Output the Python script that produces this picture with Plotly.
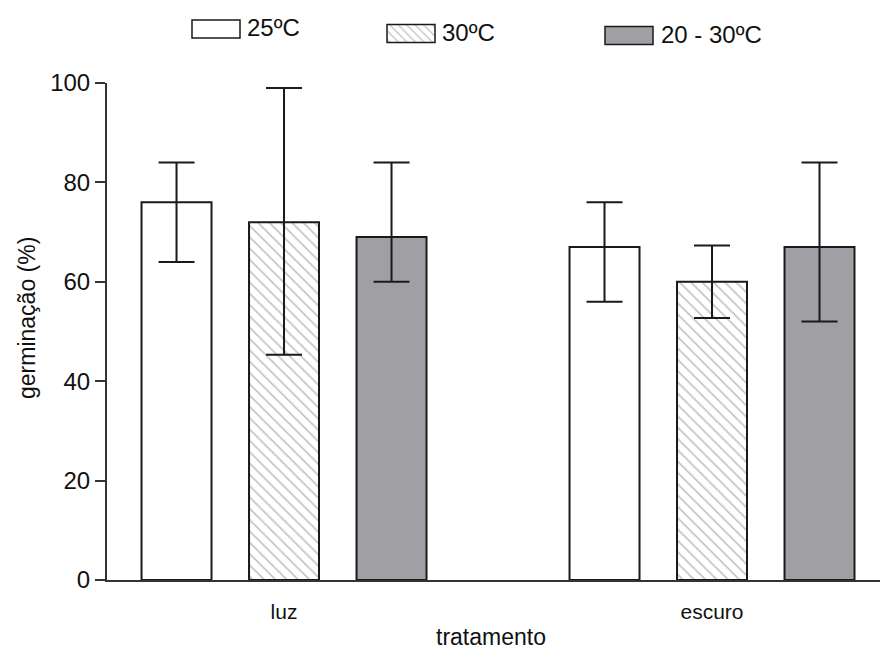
import plotly.graph_objects as go

# ---- data ----
categories = ["luz", "escuro"]
series_names = ["25ºC", "30ºC", "20 - 30ºC"]
means_25 = [76, 67]
upper_25 = [84, 76]
lower_25 = [64, 56]
means_30 = [72, 60]
upper_30 = [99, 67.3]
lower_30 = [45.3, 52.7]
means_2030 = [69, 67]
upper_2030 = [84, 84]
lower_2030 = [60, 52]
y_ticks = [0, 20, 40, 60, 80, 100]

W, H = 880, 653
FONT = "Liberation Sans, Arial, sans-serif"

styles = [
    dict(color="white", pattern=None),
    dict(color="white", pattern=dict(shape="\\", fgcolor="#8a8a8a", bgcolor="white", size=8, solidity=0.22)),
    dict(color="#a09fa4", pattern=None),
]
series = [
    (means_25, upper_25, lower_25),
    (means_30, upper_30, lower_30),
    (means_2030, upper_2030, lower_2030),
]

fig = go.Figure()
for name, (m, up, lo), st in zip(series_names, series, styles):
    marker = dict(color=st["color"], line=dict(color="#1a1a1a", width=2))
    if st["pattern"]:
        marker["pattern"] = st["pattern"]
    fig.add_trace(go.Bar(
        x=categories, y=m, name=name, marker=marker, showlegend=False,
        error_y=dict(type="data", symmetric=False,
                     array=[u - v for u, v in zip(up, m)],
                     arrayminus=[v - l for v, l in zip(m, lo)],
                     color="#1a1a1a", thickness=2, width=18),
    ))

# ---- legend swatches on a hidden pixel-scaled axis ----
legend_pos = [(192, 29, 245), (387, 33.5, 440), (605, 35.5, 659)]
for name, st, (x0, yc, tx) in zip(series_names, styles, legend_pos):
    marker = dict(color=st["color"], line=dict(color="#1a1a1a", width=1.5))
    if st["pattern"]:
        marker["pattern"] = dict(st["pattern"], size=6)
    fig.add_trace(go.Bar(
        x=[48], base=[x0], y=[yc], orientation="h", width=18,
        marker=marker, xaxis="x2", yaxis="y2", showlegend=False, hoverinfo="skip",
    ))
    fig.add_annotation(x=tx / W, y=1 - (yc - 1) / H, xref="paper", yref="paper",
                       text=name, showarrow=False, xanchor="left", yanchor="middle",
                       font=dict(family=FONT, size=24, color="#111"))

# y-axis title
fig.add_annotation(x=27 / W, y=1 - 318 / H, xref="paper", yref="paper",
                   text="germinação (%)", textangle=-90, showarrow=False,
                   xanchor="center", yanchor="middle",
                   font=dict(family=FONT, size=23, color="#111"))
# x-axis title
fig.add_annotation(x=491 / W, y=1 - 637 / H, xref="paper", yref="paper",
                   text="tratamento", showarrow=False,
                   xanchor="center", yanchor="middle",
                   font=dict(family=FONT, size=23, color="#111"))

fig.update_layout(
    width=W, height=H,
    margin=dict(l=0, r=0, t=0, b=0, autoexpand=False),
    paper_bgcolor="white", plot_bgcolor="rgba(0,0,0,0)",
    barmode="group", bargap=0.2465, bargroupgap=0.349,
    showlegend=False,
    xaxis=dict(domain=[107 / W, 1.0], range=[-0.4136, 1.3925], automargin=False,
               showline=True, linecolor="#333", linewidth=2,
               ticks="", showgrid=False, zeroline=False,
               tickfont=dict(family=FONT, size=21, color="#111"),
               ticklabelstandoff=12),
    yaxis=dict(domain=[73 / H, 570 / H], range=[0, 100], automargin=False,
               tickvals=y_ticks, ticks="outside", ticklen=10, tickwidth=2, tickcolor="#333",
               showline=True, linecolor="#333", linewidth=2,
               showgrid=False, zeroline=False,
               tickfont=dict(family=FONT, size=24, color="#111")),
    xaxis2=dict(domain=[0, 1], range=[0, W], visible=False, anchor="y2", automargin=False),
    yaxis2=dict(domain=[0, 1], range=[H, 0], visible=False, anchor="x2", automargin=False),
)

fig.write_html("out.html")
